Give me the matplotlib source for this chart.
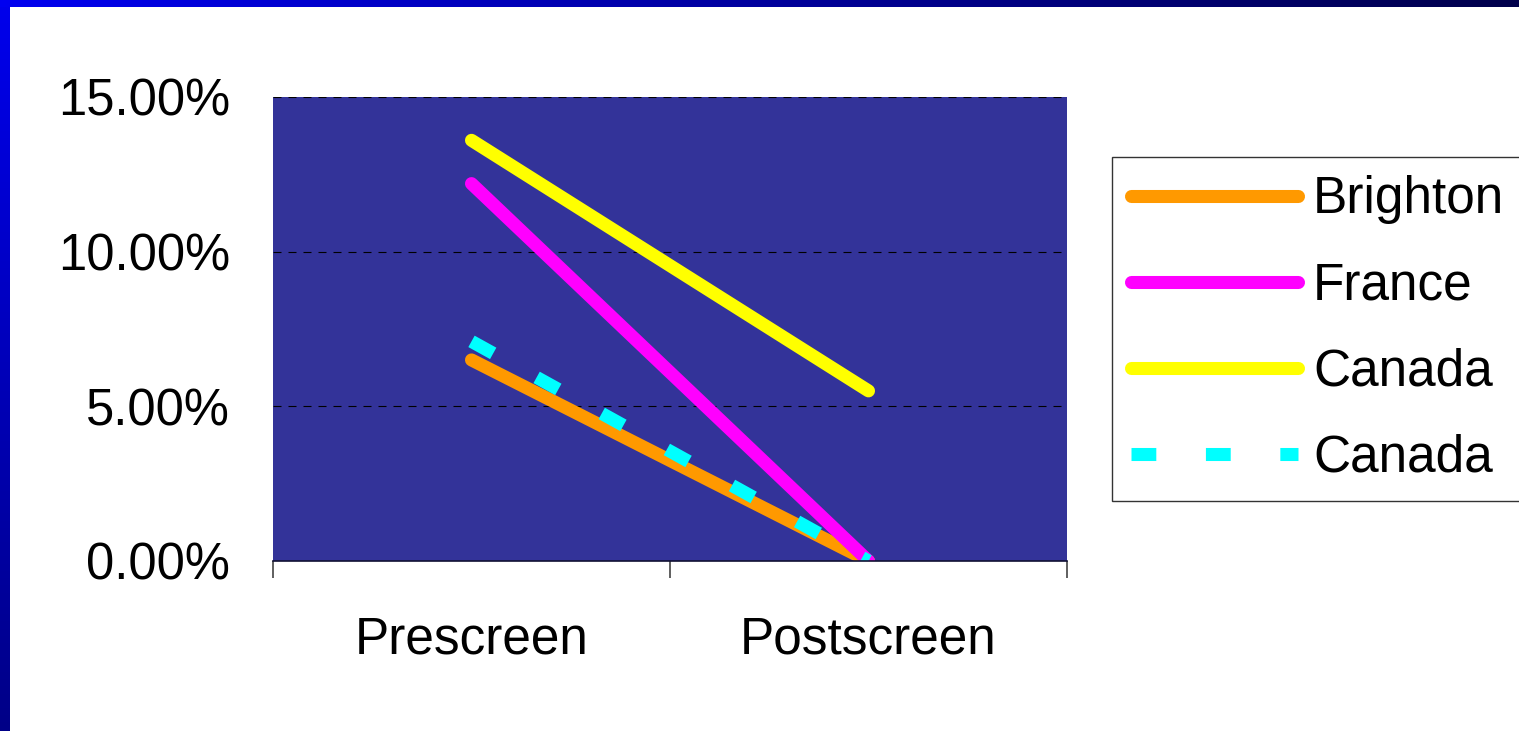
import numpy as np
import matplotlib
matplotlib.use("Agg")
import matplotlib.pyplot as plt
from matplotlib.ticker import FuncFormatter, FixedLocator

# ---- data ----
categories = ["Prescreen", "Postscreen"]
series_names = ["Brighton", "France", "Canada", "Canada"]
brighton = [6.5, 0.0]
france = [12.2, 0.0]
canada = [13.6, 5.5]
canada_trend = [7.1, 0.0]
y_ticks = [0, 5, 10, 15]

colors = ["#FF9900", "#FF00FF", "#FFFF00", "#00FFFF"]

plt.rcParams['font.family'] = ['Liberation Sans', 'DejaVu Sans']

W, H = 1519, 731
fig = plt.figure(figsize=(W / 100, H / 100), dpi=100)
fig.patch.set_facecolor("white")

# decorative gradient border strips
top_ax = fig.add_axes([0, 1 - 7 / H, 1, 7 / H])
grad_h = np.zeros((1, 256, 3))
grad_h[0, :, 2] = np.linspace(240, 75, 256) / 255
top_ax.imshow(grad_h, aspect='auto', extent=[0, 1, 0, 1])
top_ax.set_axis_off()

left_ax = fig.add_axes([0, 0, 10 / W, 1 - 7 / H])
grad_v = np.zeros((256, 1, 3))
grad_v[:, 0, 2] = np.linspace(235, 135, 256) / 255
left_ax.imshow(grad_v, aspect='auto', extent=[0, 1, 0, 1])
left_ax.set_axis_off()

# main axes
x0, x1 = 273, 1067
ytop, ybot = 97, 561
ax = fig.add_axes([x0 / W, 1 - ybot / H, (x1 - x0) / W, (ybot - ytop) / H])
ax.set_facecolor("#333399")

x = np.arange(len(categories))
lw = 9.4
ax.plot(x, brighton, color=colors[0], lw=lw, solid_capstyle='round', label=series_names[0], zorder=3)
ax.plot(x, france, color=colors[1], lw=lw, solid_capstyle='round', label=series_names[1], zorder=3)
ax.plot(x, canada, color=colors[2], lw=lw, solid_capstyle='round', label=series_names[2], zorder=3)
ax.plot(x, canada_trend, color=colors[3], lw=lw, linestyle=(0, (1.9, 3.8)),
        dash_capstyle='butt', label=series_names[3], zorder=4)

ax.set_xlim(-0.5, len(categories) - 0.5)
ax.set_ylim(0, 15)
ax.set_yticks(y_ticks)
ax.yaxis.set_major_formatter(FuncFormatter(lambda v, p: f"{v:.2f}%"))
ax.set_xticks(x)
ax.set_xticklabels(categories)
ax.xaxis.set_minor_locator(FixedLocator(np.arange(-0.5, len(categories), 1.0)))

ax.grid(axis='y', color='black', lw=0.8, linestyle=(0, (7.2, 6.3)))
ax.set_axisbelow(True)

for s in ['left', 'right', 'top']:
    ax.spines[s].set_visible(False)
ax.spines['bottom'].set_color('#111133')
ax.spines['bottom'].set_linewidth(1.2)
ax.spines['bottom'].set_zorder(5)

ax.tick_params(axis='y', length=0, pad=31, labelsize=36.5)
ax.tick_params(axis='x', which='major', length=0, pad=39, labelsize=37)
ax.tick_params(axis='x', which='minor', length=12, width=1.2, color='#444444', direction='out')

leg = ax.legend(loc='upper left', bbox_to_anchor=(1112 / W, 1 - 157 / H),
                bbox_transform=fig.transFigure, borderaxespad=0,
                fontsize=37, frameon=True, fancybox=False, shadow=False,
                handlelength=3.25, handletextpad=0.3, labelspacing=0.72,
                borderpad=0.36)
leg.get_frame().set_edgecolor('black')
leg.get_frame().set_linewidth(1.0)

fig.savefig("out.png", dpi=100, facecolor=fig.get_facecolor())
